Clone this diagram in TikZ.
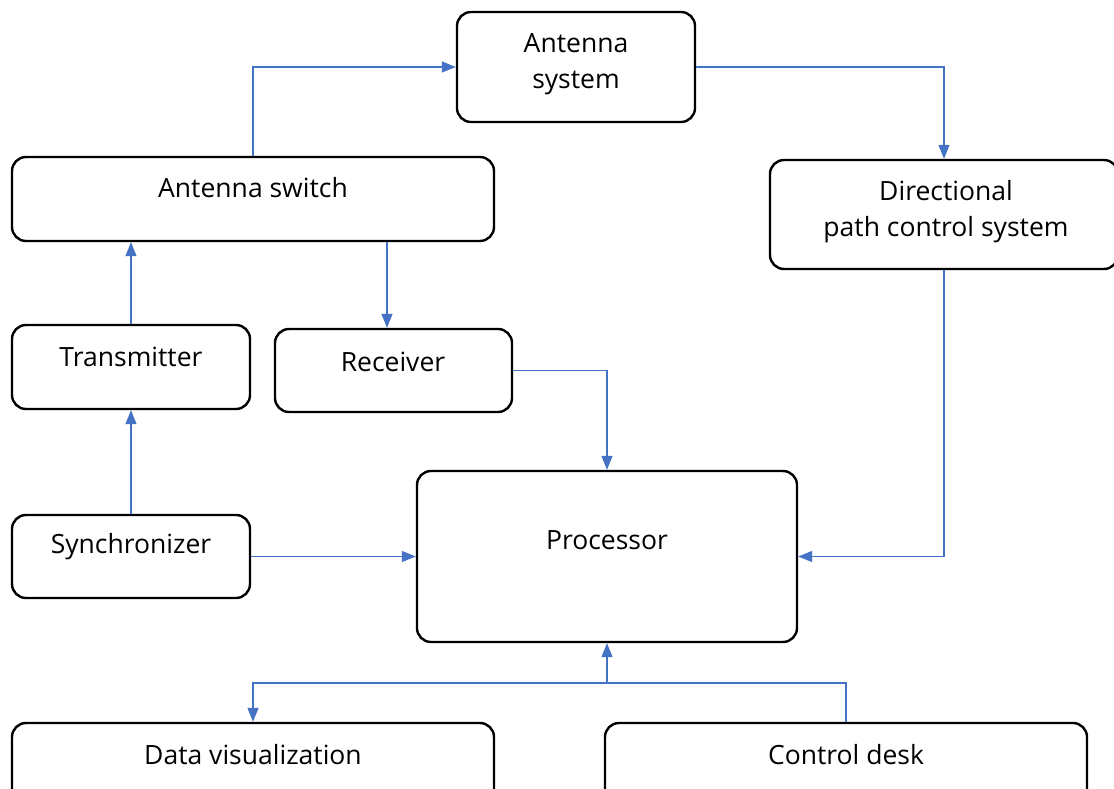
\documentclass[tikz,border=0pt]{standalone}
\usepackage{fontspec}
\setmainfont{Open Sans}
\usetikzlibrary{arrows.meta}
\definecolor{conn}{HTML}{4472C4}
\tikzset{
  box/.style={draw=black, line width=2.4pt, rounded corners=14pt, inner sep=0pt, fill=white},
  txt/.style={font=\fontsize{26.5}{36}\selectfont, align=center, inner sep=0pt},
  wire/.style={draw=conn, line width=1.2pt, -{Triangle[length=14pt,width=11pt]}},
  plain/.style={draw=conn, line width=1.2pt}
}
\begin{document}
\begin{tikzpicture}[x=1pt,y=-1pt]
\useasboundingbox (0,0) rectangle (1114,789);
\clip (0,0) rectangle (1114,789);
\fill[white] (0,0) rectangle (1114,789);
% boxes
\node[box, minimum width=238pt, minimum height=110pt] (asys) at (576,67) {};
\node[box, minimum width=482pt, minimum height=84pt] (asw) at (253,199) {};
\node[box, minimum width=348pt, minimum height=109pt] (dir) at (944,214.5) {};
\node[box, minimum width=238pt, minimum height=84pt] (tx) at (131,367) {};
\node[box, minimum width=237pt, minimum height=83pt] (rcv) at (393.5,370.5) {};
\node[box, minimum width=238pt, minimum height=83pt] (sync) at (131,556.5) {};
\node[box, minimum width=380pt, minimum height=171pt] (proc) at (607,556.5) {};
\node[box, minimum width=482pt, minimum height=80pt] (dv) at (253,763) {};
\node[box, minimum width=482pt, minimum height=80pt] (cd) at (846,763) {};
% texts
\node[txt] (tasys) at (576,64) {Antenna\\system};
\node[txt] (tasw) at (253,188) {Antenna switch};
\node[txt] (tdir) at (946,212) {Directional\\path control system};
\node[txt] (ttx) at (131,357) {Transmitter};
\node[txt] (trcv) at (393,362) {Receiver};
\node[txt] (tsync) at (131,547) {Synchronizer};
\node[txt] (tproc) at (607,540) {Processor};
\node[txt] (tdv) at (253,755) {Data visualization};
\node[txt] (tcd) at (846,755) {Control desk};
% connectors
\draw[wire] (asw.north) |- (asys.west);
\draw[wire] (asys.east) -| (dir.north);
\draw[wire] (dir.south) |- (proc.east);
\draw[wire] ([xshift=-6.5pt]rcv.north |- asw.south) -- ([xshift=-6.5pt]rcv.north);
\draw[wire] (tx.north) -- (tx.north |- asw.south);
\draw[wire] (sync.north) -- (tx.south);
\draw[wire] (rcv.east) -| (proc.north);
\draw[wire] (sync.east) -- (proc.west);
\coordinate (j) at (607,683);
\draw[plain] (cd.north) |- (j);
\draw[wire] (j) -- (proc.south);
\draw[wire] (j) -| (dv.north);
\end{tikzpicture}
\end{document}
